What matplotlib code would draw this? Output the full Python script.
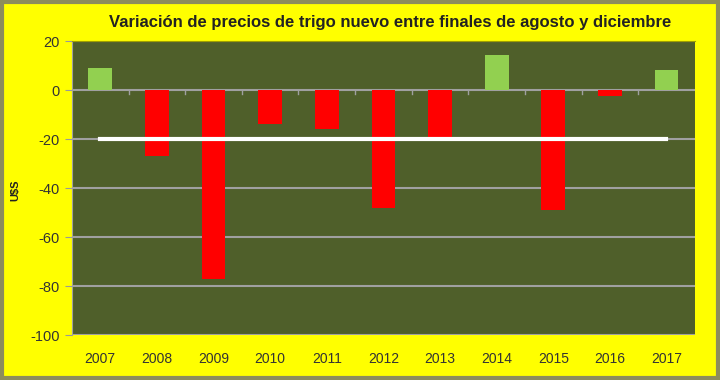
import numpy as np
from matplotlib import pyplot as plt
from matplotlib.patches import Rectangle

years = ['2007', '2008', '2009', '2010', '2011', '2012', '2013', '2014', '2015', '2016', '2017']
variation = [9, -27, -77, -14, -16, -48, -19, 14.5, -49, -2.5, 8]
reference = [-20] * len(years)

title = 'Variación de precios de trigo nuevo entre finales de agosto y diciembre'
font = ['Liberation Sans', 'DejaVu Sans']

fig = plt.figure(figsize=(7.2, 3.8), dpi=100, facecolor='#ffff00')
ax = fig.add_axes([0.1, 0.118, 0.865, 0.774])
ax.set_facecolor('#4f5f2a')

x = np.arange(len(years))
colors = ['#92d050' if v > 0 else '#ff0000' for v in variation]
ax.bar(x, variation, width=0.42, color=colors, zorder=3)
ax.plot(x, reference, color='white', lw=3, zorder=4)

ax.set_ylim(-100, 20)
ax.set_xlim(-0.5, len(years) - 0.5)
ax.set_yticks(np.arange(-100, 21, 20))
ax.set_yticklabels([str(v) for v in range(-100, 21, 20)], family=font, fontsize=10.5, color='#333')
ax.grid(axis='y', color='#a0a0a0', lw=1.5, zorder=1)
ax.set_xticks(x)
ax.set_xticklabels(years, family=font, fontsize=10, color='#333')
ax.tick_params(axis='x', length=0, pad=12)
ax.tick_params(axis='y', length=5, color='#999', pad=4)

# small category ticks along zero line
for b in np.arange(0.5, len(years) - 0.5):
    ax.plot([b, b], [0, -1.5], color='#a0a0a0', lw=1, zorder=2)

for s in ['right', 'bottom']:
    ax.spines[s].set_visible(False)
ax.spines['left'].set_color('#a0a0a0')
ax.spines['top'].set_color('#a0a000')

fig.text(0.022, 0.5, 'U$S', rotation=90, ha='center', va='center', family=font,
         fontsize=8, fontweight='bold', color='#222')

fig.text(0.542, 0.94, title, ha='center', va='center', family=font,
         fontsize=12, fontweight='bold', color='#222')

fig.patches.append(Rectangle((0.003, 0.005), 0.994, 0.99, transform=fig.transFigure,
                             fill=False, edgecolor='#8c8c5c', lw=3))

fig.savefig('out.png', dpi=100, facecolor=fig.get_facecolor())
